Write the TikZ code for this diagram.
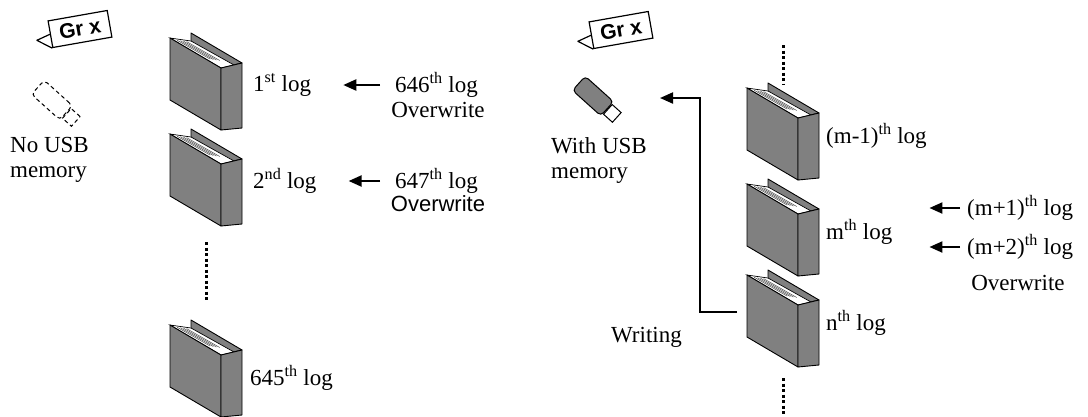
\documentclass[tikz,border=0pt]{standalone}
\usepackage{fontspec}
\setmainfont{Liberation Serif}
\newfontfamily\arialfont{Liberation Sans}
\usetikzlibrary{arrows.meta}

\definecolor{booktone}{RGB}{128,128,128}

\tikzset{
  face/.style={fill=booktone, draw=black, line width=0.9pt, line join=round},
  logbook/.pic={
    % back cover, then the page block on top of it
    \filldraw[face] (21,-5) -- (72,25) -- (51,30) -- (21,3) -- cycle;
    \filldraw[fill=white, line width=0.7pt] (0,0) -- (21,3) -- (64,27) -- (51,30) -- cycle;
    \foreach \t in {0.2,0.35,0.5,0.65}
      \draw[black!70, line width=0.5pt] (21*\t+3,3*\t+1.7) -- (21*\t+36,3*\t+20.5);
    % front cover and spine
    \filldraw[face] (0,0) -- (51,30) -- (51,92) -- (0,62) -- cycle;
    \filldraw[face] (51,30) -- (72,25) -- (72,90) -- (51,92) -- cycle;
    \coordinate (-out) at (-10,37);
  },
  feed/.style={-{Triangle[length=13pt,width=11pt]}, line width=2.2pt},
  writeline/.style={-{Triangle[length=13pt,width=11pt]}, line width=2pt},
  gapline/.style={line width=3pt, dash pattern=on 3pt off 2.5pt},
  lbl/.style={anchor=west, inner sep=0pt, font=\fontsize{23}{25}\selectfont},
  grtag/.style={draw, fill=white, line width=1.2pt, minimum width=60pt,
    minimum height=27pt, inner sep=0pt, rotate=10,
    font=\arialfont\bfseries\fontsize{21}{22}\selectfont},
  usbbody/.style={draw, rounded corners=4pt, minimum width=38pt,
    minimum height=19pt, inner sep=0pt, line width=1pt, rotate=-42},
  usbcap/.style={draw, fill=white, minimum width=12pt, minimum height=13pt,
    inner sep=0pt, line width=1pt, rotate=-42, anchor=west},
}

\begin{document}
\begin{tikzpicture}[x=1pt, y=-1pt]
  \useasboundingbox (0,0) rectangle (1088,416);

  % ---- left: no USB memory, log ring overwritten ----
  \node[grtag] (gr0) at (80,29) {Gr x};
  \draw[line width=1.2pt, line join=round] (gr0.west) -- ++(-13,6) -- (gr0.south west);

  \node[usbbody, dash pattern=on 4pt off 3pt] (usb0) at (52,100) {};
  \node[usbcap, dash pattern=on 4pt off 3pt, fill=none] (cap0) at (usb0.east) {};
  \node[lbl, align=left] (nousb) at (10,160) {No USB\\memory};

  \pic (b1) at (170,38) {logbook};
  \pic (b2) at (170,134) {logbook};
  \pic (b645) at (170,325) {logbook};
  \draw[gapline] (206,242) -- (206,302);

  \node[lbl] (l1) at (253,85) {1\textsuperscript{st} log};
  \node[lbl] (l2) at (253,181) {2\textsuperscript{nd} log};
  \node[lbl] (l645) at (250,378) {645\textsuperscript{th} log};

  \node[lbl] (n646) at (395,85) {646\textsuperscript{th} log};
  \node[lbl, anchor=center] (ow1) at (438,110) {Overwrite};
  \node[lbl] (n647) at (395,181) {647\textsuperscript{th} log};
  \node[lbl, anchor=center, font=\arialfont\fontsize{22}{24}\selectfont] (ow2) at (438,204) {Overwrite};

  \draw[feed, shorten <=15pt, shorten >=32pt] (n646.west) -- (l1.east);
  \draw[feed, shorten <=15pt, shorten >=32pt] (n647.west) -- (l2.east);

  % ---- right: with USB memory, log written out ----
  \node[grtag] (gr1) at (621,30) {Gr x};
  \draw[line width=1.2pt, line join=round] (gr1.west) -- ++(-13,6) -- (gr1.south west);

  \node[usbbody, fill=booktone] (usb1) at (593,96) {};
  \node[usbcap] (cap1) at (usb1.east) {};
  \node[lbl, align=left] (withusb) at (551,160) {With USB\\memory};

  \draw[gapline] (783,45) -- (783,84);
  \pic (bm1) at (747,88) {logbook};
  \pic (bm) at (747,184) {logbook};
  \pic (bn) at (747,275) {logbook};
  \draw[gapline] (783,378) -- (783,416);

  \node[lbl] (rm1) at (826,136) {(m-1)\textsuperscript{th} log};
  \node[lbl] (rm) at (826,232) {m\textsuperscript{th} log};
  \node[lbl] (rn) at (826,323) {n\textsuperscript{th} log};

  \node[lbl] (p1) at (967,208) {(m+1)\textsuperscript{th} log};
  \node[lbl] (p2) at (967,247) {(m+2)\textsuperscript{th} log};
  \node[lbl, anchor=center] (ow3) at (1018,283) {Overwrite};

  \draw[feed, shorten <=7pt, shorten >=37pt] (p1.west) -- (p1.west -| rm.east);
  \draw[feed, shorten <=7pt, shorten >=37pt] (p2.west) -- (p2.west -| rm.east);

  \node[lbl] (wr) at (611,337) {Writing};
  \coordinate (bend) at (700,98);
  \coordinate (usbin) at (660,98);
  \draw[writeline] (bn-out) -| (bend) -- (usbin);
\end{tikzpicture}
\end{document}
